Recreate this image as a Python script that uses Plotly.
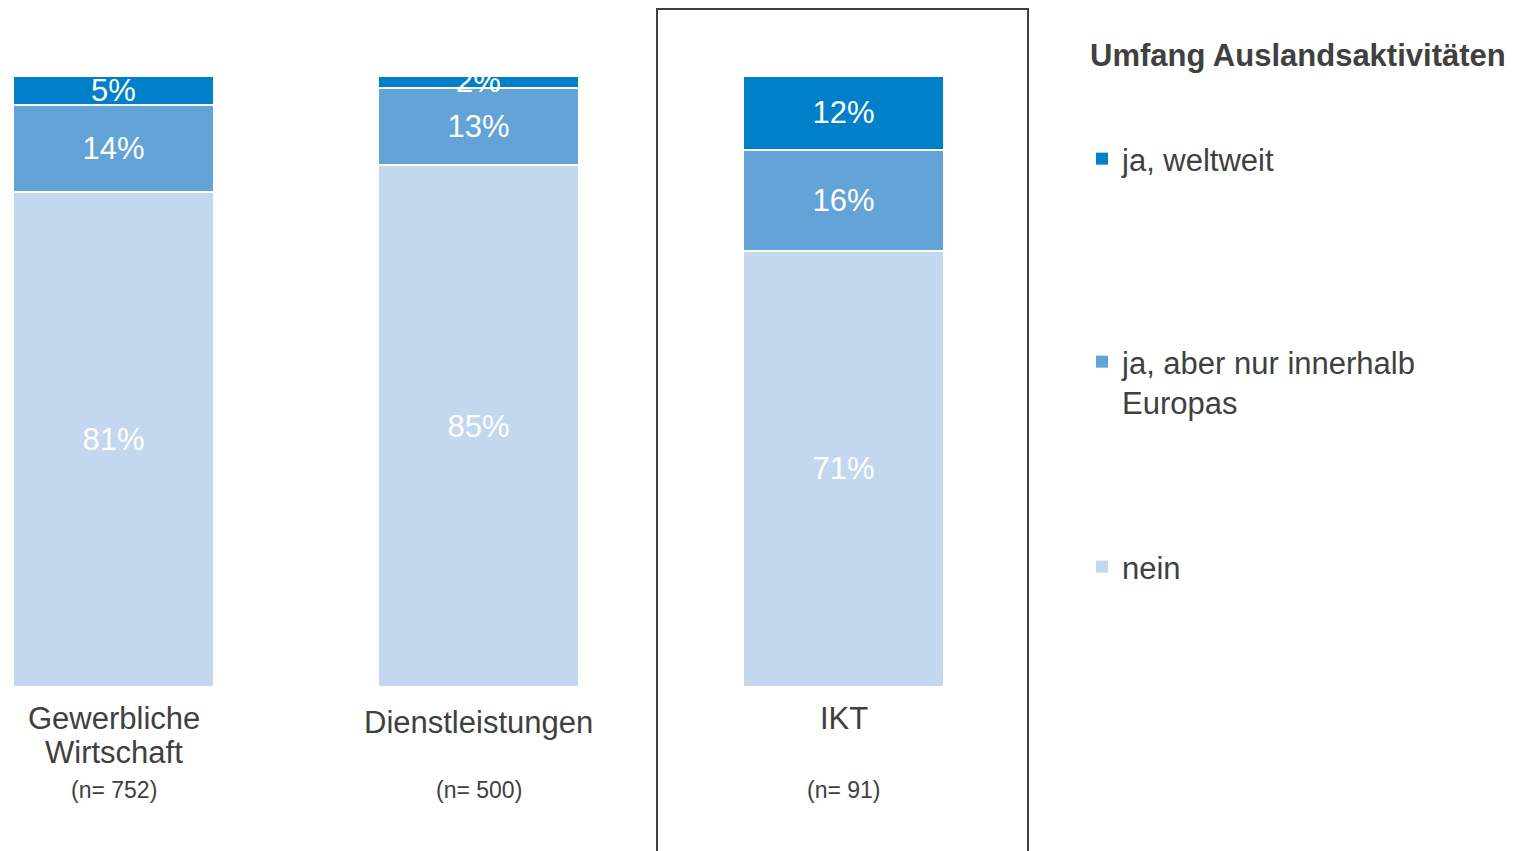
import plotly.graph_objects as go

# ---------------- data ----------------
categories = ["Gewerbliche Wirtschaft", "Dienstleistungen", "IKT"]
category_lines = [["Gewerbliche", "Wirtschaft"], ["Dienstleistungen"], ["IKT"]]
sample_sizes = [752, 500, 91]

series_names = ["nein", "ja, aber nur innerhalb<br>Europas", "ja, weltweit"]
nein = [81.0, 85.4, 71.4]
europa = [14.2, 12.7, 16.5]
weltweit = [4.8, 1.9, 12.1]
legend_title = "Umfang Auslandsaktivitäten"

# ---------------- style ----------------
colors = ["#C3D7EE", "#63A3D8", "#0080C8"]
text_color = "#404040"
font_family = "Liberation Sans, Arial, sans-serif"

W, H = 1524, 851
OFF = 8  # page body margin of the html page
plot_left, plot_right, plot_top, plot_bottom = 0, 1040, 76 - OFF, 687 - OFF
first_center_px, step_px = 113.5 - OFF, 365.0
x_range = [(plot_left - first_center_px) / step_px, (plot_right - first_center_px) / step_px]


def px_x(px):
    return (px - OFF - plot_left) / (plot_right - plot_left)


def px_y(py):
    return (plot_bottom - (py - OFF)) / (plot_bottom - plot_top)


fig = go.Figure()
series_values = [nein, europa, weltweit]
legend_ids = ["legend3", "legend2", "legend"]
for name, vals, col, lg in zip(series_names, series_values, colors, legend_ids):
    fig.add_trace(go.Bar(
        x=categories,
        y=vals,
        name=name,
        legendgroup=name,
        showlegend=False,
        marker=dict(color=col, line=dict(color="white", width=2.2)),
        width=0.55,
        text=[f"{round(v)}%" for v in vals],
        textposition="inside",
        insidetextanchor="middle",
        constraintext="none",
        textfont=dict(family=font_family, size=31, color="white"),
        hoverinfo="x+y+name",
    ))
    # legend entry (solid square symbol without the white separator outline)
    fig.add_trace(go.Bar(
        x=[None], y=[None], name=name, legend=lg, legendgroup=name,
        marker=dict(color=col, line=dict(width=0)), hoverinfo="skip",
    ))

legend_common = dict(
    xanchor="left", yanchor="middle",
    font=dict(family=font_family, size=31, color=text_color),
    bgcolor="rgba(0,0,0,0)", valign="top", itemclick=False, itemdoubleclick=False,
)

annotations = []
# legend title
annotations.append(dict(
    text=f"<b>{legend_title}</b>", xref="paper", yref="paper",
    x=px_x(1088), y=px_y(56), xanchor="left", yanchor="middle", showarrow=False,
    font=dict(family=font_family, size=31, color=text_color),
))
# category labels
label_top_px = [718, 722, 718]
line_step_px = 34
for cat, lines, n, ytop in zip(categories, category_lines, sample_sizes, label_top_px):
    for i, line in enumerate(lines):
        annotations.append(dict(
            text=line, xref="x", yref="paper", x=cat, y=px_y(ytop + i * line_step_px),
            xanchor="center", yanchor="middle", showarrow=False,
            font=dict(family=font_family, size=31, color=text_color),
        ))
    annotations.append(dict(
        text=f"(n= {n})", xref="x", yref="paper", x=cat, y=px_y(790),
        xanchor="center", yanchor="middle", showarrow=False,
        font=dict(family=font_family, size=23, color=text_color),
    ))

fig.update_layout(
    width=W, height=H,
    margin=dict(l=plot_left, r=W - plot_right, t=plot_top, b=H - plot_bottom, pad=0),
    paper_bgcolor="white", plot_bgcolor="white",
    barmode="stack",
    showlegend=True,
    legend=dict(x=px_x(1082), y=px_y(159), **legend_common),
    legend2=dict(x=px_x(1082), y=px_y(382), **legend_common),
    legend3=dict(x=px_x(1082), y=px_y(567), **legend_common),
    xaxis=dict(range=x_range, showticklabels=False, showgrid=False, zeroline=False,
               showline=False, fixedrange=True),
    yaxis=dict(range=[0, 100], visible=False, fixedrange=True),
    annotations=annotations,
    shapes=[dict(type="rect", xref="paper", yref="paper",
                 x0=px_x(657), x1=px_x(1028), y0=px_y(900), y1=px_y(9),
                 line=dict(color=text_color, width=2), fillcolor="rgba(0,0,0,0)",
                 layer="above")],
    font=dict(family=font_family, color=text_color),
)

fig.write_html("out.html")
